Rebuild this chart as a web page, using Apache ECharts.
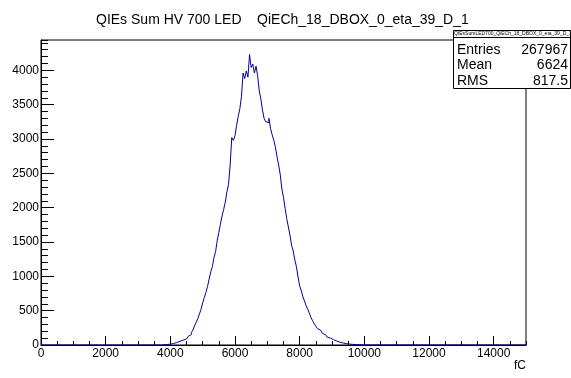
<!DOCTYPE html>
<html><head><meta charset="utf-8">
<script src="https://cdn.jsdelivr.net/npm/echarts@6/dist/echarts.min.js"></script>
<style>html,body{margin:0;padding:0;background:#fff}#c{width:571px;height:378px}</style>
</head><body><div id="c"></div>
<script>
const titleText = 'QIEs Sum HV 700 LED    QiECh_18_DBOX_0_eta_39_D_1';
const statsTitle = 'QIEsSumLED700_QiECh_18_DBOX_0_eta_39_D_1';
const statsLabels = ['Entries', 'Mean', 'RMS'];
const statsValues = ['267967', '6624', '817.5'];
const xAxisName = 'fC';
const xRange = [0, 15000];
const yRange = [0, 4441];
const binStart = 3700;
const binWidth = 50;
const binCounts = [
  2, 3, 5, 7, 10, 13, 17, 22, 28, 35, 44, 54, 62, 72, 80, 88,
  100, 125, 152, 182, 218, 282, 330, 385, 452, 520, 612, 690, 765, 852, 960, 1065,
  1140, 1272, 1360, 1520, 1640, 1760, 1880, 1975, 2080, 2230, 2340, 2620, 3020, 2980, 3050, 3200,
  3330, 3440, 3620, 3960, 3880, 3990, 3900, 4230, 4040, 4090, 3960, 4060, 3920, 3700, 3580, 3420,
  3300, 3250, 3240, 3300, 3150, 3060, 2980, 2880, 2740, 2620, 2480, 2270, 2150, 1990, 1840, 1720,
  1600, 1450, 1370, 1240, 1140, 990, 860, 790, 700, 640, 572, 520, 465, 402, 352, 310,
  272, 240, 214, 190, 170, 150, 130, 115, 100, 88, 78, 68, 58, 48, 40, 34,
  28, 24, 20, 16, 13, 11, 9, 7, 6, 5, 4, 3, 3, 2, 2, 1, 1, 1, 1
];

const FONT = "'Liberation Sans', Arial, Helvetica, sans-serif";
const histData = [[xRange[0], 0]];
binCounts.forEach((c, i) => histData.push([binStart + i * binWidth, c]));
histData.push([binStart + binCounts.length * binWidth, 0]);
histData.push([xRange[1], 0]);

const chart = echarts.init(document.getElementById('c'), null, {renderer: 'canvas'});
const black = '#000';
chart.setOption({
  animation: false,
  backgroundColor: '#fff',
  title: {
    text: titleText, left: 91, top: 8,
    textStyle: {fontFamily: FONT, fontSize: 14, fontWeight: 'normal', color: black}
  },
  grid: {left: 41, right: 45, top: 40, bottom: 33, show: true, borderColor: black, borderWidth: 1, backgroundColor: 'transparent'},
  xAxis: [
    {type: 'value', min: xRange[0], max: xRange[1], interval: 500, position: 'bottom',
     axisLine: {show: true, onZero: false, lineStyle: {color: black, width: 1}},
     axisTick: {show: true, inside: true, length: 4, lineStyle: {color: black}},
     axisLabel: {show: false}, splitLine: {show: false}},
    {type: 'value', min: xRange[0], max: xRange[1], interval: 2000, position: 'bottom', offset: 0,
     axisLine: {show: false, onZero: false},
     axisTick: {show: true, inside: true, length: 9, lineStyle: {color: black}},
     axisLabel: {show: true, margin: 3, fontFamily: FONT, fontSize: 12, color: black,
       showMaxLabel: false,
       formatter: v => (v % 2000 === 0 ? String(v) : '')},
     splitLine: {show: false}}
  ],
  yAxis: [
    {type: 'value', min: yRange[0], max: yRange[1], interval: 100, position: 'left',
     axisLine: {show: true, onZero: false, lineStyle: {color: black, width: 1}},
     axisTick: {show: true, inside: true, length: 7, lineStyle: {color: black}},
     axisLabel: {show: false}, splitLine: {show: false}},
    {type: 'value', min: yRange[0], max: yRange[1], interval: 500, position: 'left', offset: 0,
     axisLine: {show: false, onZero: false},
     axisTick: {show: true, inside: true, length: 13, lineStyle: {color: black}},
     axisLabel: {show: true, margin: 2, fontFamily: FONT, fontSize: 12, color: black,
       showMaxLabel: false,
       formatter: v => (v % 500 === 0 ? String(v) : '')},
     splitLine: {show: false}}
  ],
  series: [{
    type: 'line', step: 'end', xAxisIndex: 0, yAxisIndex: 0,
    data: histData, symbol: 'none', z: 5,
    lineStyle: {color: '#000099', width: 1}
  }],
  graphic: [
    {type: 'text', right: 45, top: 360, z: 100,
     style: {text: xAxisName, font: '12px ' + FONT, fill: black, textAlign: 'right'}},
    {type: 'group', z: 100, children: [
      {type: 'rect', shape: {x: 453.5, y: 30.5, width: 117, height: 58},
       style: {fill: '#fff', stroke: black, lineWidth: 1}, z: 100},
      {type: 'line', shape: {x1: 453.5, y1: 37.5, x2: 570.5, y2: 37.5},
       style: {stroke: black, lineWidth: 1}, z: 101},
      {type: 'text', x: 454, y: 34, z: 101,
       style: {text: statsTitle, font: '5px ' + FONT, fill: black, textVerticalAlign: 'middle', verticalAlign: 'middle'}},
      ...statsLabels.map((t, i) => ({type: 'text', x: 457, y: [50, 65.5, 81][i], z: 101,
       style: {text: t, font: '14px ' + FONT, fill: black, verticalAlign: 'middle', textVerticalAlign: 'middle'}})),
      ...statsValues.map((t, i) => ({type: 'text', x: 568, y: [50, 65.5, 81][i], z: 101,
       style: {text: t, font: '14px ' + FONT, fill: black, align: 'right', textAlign: 'right', verticalAlign: 'middle', textVerticalAlign: 'middle'}}))
    ]}
  ]
});
</script>
</body></html>
